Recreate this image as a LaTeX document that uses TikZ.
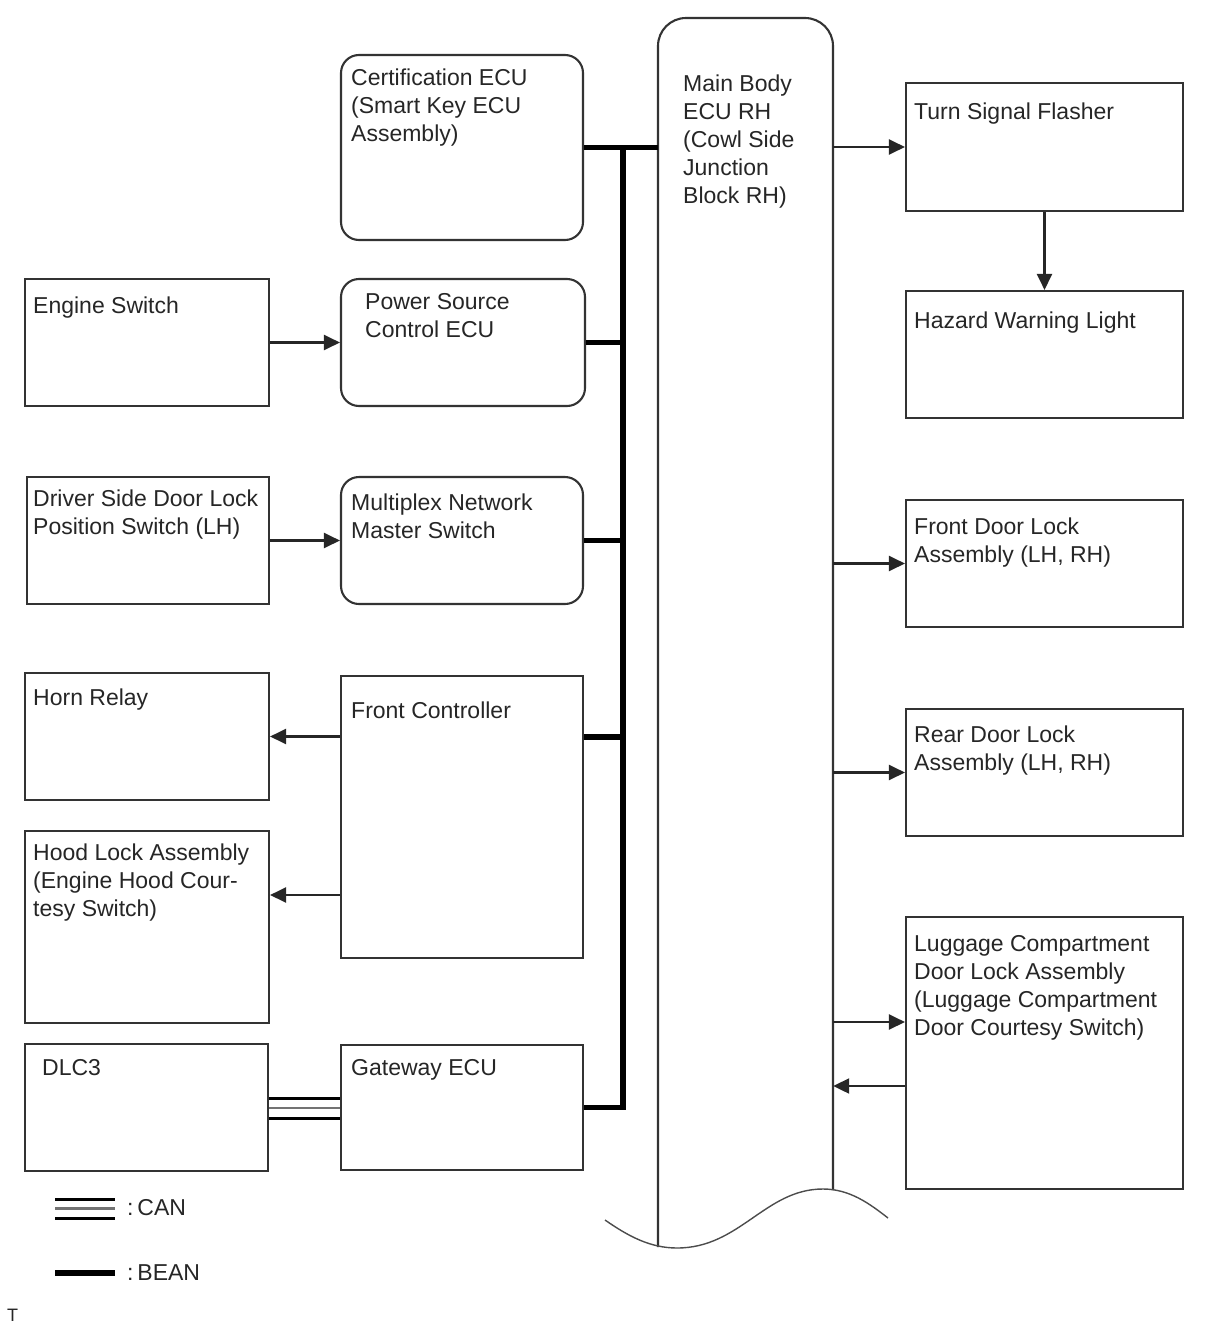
\documentclass[tikz,border=0pt]{standalone}
\usepackage{fontspec}
\setmainfont{Liberation Sans}
\usetikzlibrary{arrows.meta}
\begin{document}
\begin{tikzpicture}[x=1pt,y=-1pt,
  box/.style={draw=black!80, line width=2.1pt, inner sep=0pt},
  rbox/.style={box, rounded corners=18pt},
  lbl/.style={anchor=north west, inner sep=0pt, align=left, font=\fontsize{23}{28}\selectfont, text=black!85},
  arr/.style={draw=black!85, line width=2.2pt, -{Triangle[length=16pt,width=15pt]}},
  bean/.style={line width=5.5pt, line join=miter, black},
  canout/.style={line width=3pt, black},
  canmid/.style={line width=2.5pt, black!55}
]
\useasboundingbox (0,0) rectangle (1210,1328);

% left column boxes
\node[box, minimum width=244pt, minimum height=127pt] (eng) at (147,342.5) {};
\node[box, minimum width=242pt, minimum height=127pt] (drv) at (148,540.5) {};
\node[box, minimum width=244pt, minimum height=127pt] (horn) at (147,736.5) {};
\node[box, minimum width=244pt, minimum height=192pt] (hood) at (147,927) {};
\node[box, minimum width=243pt, minimum height=127pt] (dlc) at (146.5,1107.5) {};

% middle column boxes
\node[rbox, minimum width=242pt, minimum height=185pt] (cert) at (462,147.5) {};
\node[rbox, minimum width=244pt, minimum height=127pt] (pwr) at (463,342.5) {};
\node[rbox, minimum width=242pt, minimum height=127pt] (mux) at (462,540.5) {};
\node[box, minimum width=242pt, minimum height=282pt] (fc) at (462,817) {};
\node[box, minimum width=242pt, minimum height=125pt] (gw) at (462,1107.5) {};

% right column boxes
\node[box, minimum width=277pt, minimum height=128pt] (tsf) at (1044.5,147) {};
\node[box, minimum width=277pt, minimum height=127pt] (haz) at (1044.5,354.5) {};
\node[box, minimum width=277pt, minimum height=127pt] (fdl) at (1044.5,563.5) {};
\node[box, minimum width=277pt, minimum height=127pt] (rdl) at (1044.5,772.5) {};
\node[box, minimum width=277pt, minimum height=272pt] (lug) at (1044.5,1053) {};

% main body (connection frame)
\node[inner sep=0pt, minimum width=175pt, minimum height=1200pt] (mb) at (745.5,620) {};
\draw[box, rounded corners=28pt] (658,1247) -- (658,18) -- (833,18) -- (833,1190);
\draw[line width=1.4pt, black!70] (605,1220) .. controls (628,1236) and (650,1248) .. (677,1248)
  .. controls (740,1248) and (765,1189) .. (823,1189)
  .. controls (850,1189) and (870,1204) .. (888,1218);

% texts
\node[lbl] (tcert) at (351,68.5) {Certification ECU\\(Smart Key ECU\\Assembly)};
\node[lbl] (tpwr) at (365,293.5) {Power Source\\Control ECU};
\node[lbl] (tmux) at (351,493.5) {Multiplex Network\\Master Switch};
\node[lbl] (tfc) at (351,701.5) {Front Controller};
\node[lbl] (tgw) at (351,1059.5) {Gateway ECU};
\node[lbl] (teng) at (33,296.5) {Engine Switch};
\node[lbl] (tdrv) at (33,489.5) {Driver Side Door Lock\\Position Switch (LH)};
\node[lbl] (thorn) at (33,688.5) {Horn Relay};
\node[lbl] (thood) at (33,843.5) {Hood Lock Assembly\\(Engine Hood Cour-\\tesy Switch)};
\node[lbl] (tdlc) at (42,1059.5) {DLC3};
\node[lbl] (tmb) at (683,74.5) {Main Body\\ECU RH\\(Cowl Side\\Junction\\Block RH)};
\node[lbl] (ttsf) at (914,102.5) {Turn Signal Flasher};
\node[lbl] (thaz) at (914,311.5) {Hazard Warning Light};
\node[lbl] (tfdl) at (914,517.5) {Front Door Lock\\Assembly (LH, RH)};
\node[lbl] (trdl) at (914,725.5) {Rear Door Lock\\Assembly (LH, RH)};
\node[lbl] (tlug) at (914,935.5) {Luggage Compartment\\Door Lock Assembly\\(Luggage Compartment\\Door Courtesy Switch)};

% BEAN bus
\coordinate (bustop) at (623,147.5);
\coordinate (fcy) at (0,737);
\draw[bean] (cert.east) -- (cert.east -| mb.west);
\draw[bean] (gw.east) -| (bustop);
\draw[bean] (pwr.east) -- (pwr.east -| bustop);
\draw[bean] (mux.east) -- (mux.east -| bustop);
\draw[bean] (fc.east |- fcy) -- (bustop |- fcy);

% CAN
\coordinate (can1) at (0,1098);
\coordinate (can2) at (0,1108);
\coordinate (can3) at (0,1118);
\draw[canmid] (dlc.east |- can2) -- (gw.west |- can2);
\draw[canout] (dlc.east |- can1) -- (gw.west |- can1);
\draw[canout] (dlc.east |- can3) -- (gw.west |- can3);

% arrows
\coordinate (hoody) at (0,895);
\coordinate (lugin) at (0,1022);
\coordinate (lugout) at (0,1086);
\draw[arr] (eng.east) -- (pwr.west);
\draw[arr] (drv.east) -- (mux.west);
\draw[arr] (fc.west |- horn.east) -- (horn.east);
\draw[arr] (fc.west |- hoody) -- (hood.east |- hoody);
\draw[arr] (mb.east |- tsf.west) -- (tsf.west);
\draw[arr] (tsf.south) -- (haz.north);
\draw[arr] (mb.east |- fdl.west) -- (fdl.west);
\draw[arr] (mb.east |- rdl.west) -- (rdl.west);
\draw[arr] (mb.east |- lugin) -- (lug.west |- lugin);
\draw[arr] (lug.west |- lugout) -- (mb.east |- lugout);

% legend
\coordinate (lc1) at (55,1199);
\coordinate (lc2) at (55,1208.5);
\coordinate (lc3) at (55,1218);
\coordinate (ld1) at (115,1199);
\coordinate (ld2) at (115,1208.5);
\coordinate (ld3) at (115,1218);
\draw[canmid] (lc2) -- (ld2);
\draw[canout] (lc1) -- (ld1);
\draw[canout] (lc3) -- (ld3);
\node[lbl] (tcan) at (127,1199.5) {:\,CAN};
\coordinate (lb1) at (55,1273);
\coordinate (lb2) at (115,1273);
\draw[line width=6pt, black] (lb1) -- (lb2);
\node[lbl] (tbean) at (127,1264.5) {:\,BEAN};
\node[anchor=north west, inner sep=0pt, font=\fontsize{18}{20}\selectfont, text=black!85] (tT) at (7,1309) {T};
\end{tikzpicture}
\end{document}
